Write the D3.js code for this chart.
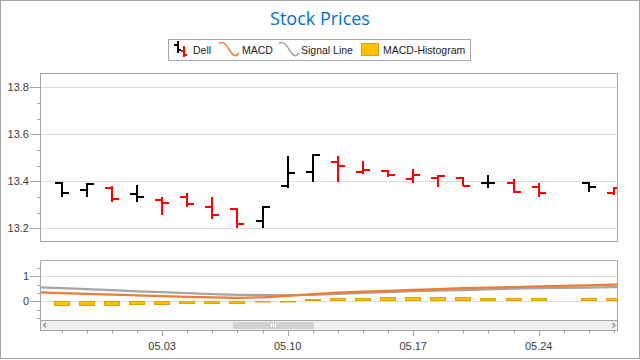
<!DOCTYPE html>
<html><head><meta charset="utf-8">
<script src="https://cdn.jsdelivr.net/npm/d3@7"></script>
<style>
html,body{margin:0;padding:0;background:#fff;}
svg{display:block;font-family:"Liberation Sans",Arial,sans-serif;}
</style></head>
<body>
<svg id="c" width="640" height="360"></svg>
<script>
// ---------- DATA ----------
const dates = ["2013-04-29","2013-04-30","2013-05-01","2013-05-02","2013-05-03",
  "2013-05-06","2013-05-07","2013-05-08","2013-05-09","2013-05-10",
  "2013-05-13","2013-05-14","2013-05-15","2013-05-16","2013-05-17",
  "2013-05-20","2013-05-21","2013-05-22","2013-05-23","2013-05-24",
  "2013-05-28","2013-05-29"];
const openV  = [13.394,13.364,13.373,13.346,13.322,13.333,13.291,13.283,13.231,13.381,13.441,13.483,13.441,13.444,13.411,13.413,13.415,13.394,13.394,13.376,13.394,13.351];
const highV  = [13.398,13.391,13.381,13.384,13.332,13.349,13.332,13.285,13.294,13.508,13.515,13.508,13.486,13.448,13.452,13.427,13.420,13.427,13.409,13.394,13.398,13.377];
const lowV   = [13.334,13.334,13.311,13.311,13.258,13.292,13.238,13.203,13.200,13.370,13.398,13.398,13.430,13.417,13.391,13.377,13.380,13.373,13.351,13.332,13.353,13.342];
const closeV = [13.351,13.389,13.325,13.333,13.309,13.303,13.257,13.220,13.292,13.434,13.513,13.466,13.448,13.427,13.425,13.423,13.380,13.394,13.354,13.349,13.377,13.373];
const histV  = [-0.21,-0.21,-0.21,-0.16,-0.16,-0.12,-0.12,-0.12,-0.05,-0.02,0.08,0.13,0.13,0.17,0.17,0.17,0.17,0.12,0.12,0.12,0.12,0.12];

const lineDates = ["2013-04-26","2013-04-29","2013-04-30","2013-05-01","2013-05-02","2013-05-03",
  "2013-05-06","2013-05-07","2013-05-08","2013-05-09","2013-05-10",
  "2013-05-13","2013-05-14","2013-05-15","2013-05-16","2013-05-17",
  "2013-05-20","2013-05-21","2013-05-22","2013-05-23","2013-05-24",
  "2013-05-28","2013-05-29","2013-05-30"];
const macdV   = [0.36,0.33,0.30,0.27,0.24,0.21,0.18,0.16,0.14,0.16,0.22,0.29,0.35,0.39,0.42,0.46,0.49,0.53,0.55,0.57,0.60,0.64,0.67,0.70];
const signalV = [0.56,0.53,0.49,0.45,0.40,0.37,0.33,0.29,0.26,0.25,0.25,0.26,0.30,0.34,0.37,0.41,0.43,0.45,0.48,0.51,0.53,0.55,0.57,0.59];

const mainTicks = [13.2,13.4,13.6,13.8];
const lowTicks = [0,1];
const titleText = "Stock Prices";
const legendNames = ["Dell","MACD","Signal Line","MACD-Histogram"];

// ---------- HELPERS ----------
const parse = d3.utcParse("%Y-%m-%d");
const base = parse("2013-04-29");
function tradeIndex(dt){
  const d = Math.round((dt - base)/86400000);
  const w = Math.floor(d/7);
  const dow = d - w*7;
  return w*5 + Math.min(dow,5);
}
const fmt = d3.utcFormat("%m.%d");

const svg = d3.select("#c");
const GRID = "#dcdcdc", BORDER = "#a6a6a6", TXT = "#3c3c3c";

// outer border
svg.append("rect").attr("x",0.5).attr("y",0.5).attr("width",639).attr("height",358)
  .attr("fill","#fff").attr("stroke",BORDER);

// title
svg.append("text").attr("x",320).attr("y",25).attr("text-anchor","middle")
  .attr("font-family","'Open Sans',sans-serif").attr("font-size",18).attr("fill","#0072c6").text(titleText);

// scales
const L = 40, R = 618;
const x = d3.scaleLinear().domain([-0.865, 22.16]).range([L, R]);
const yM = d3.scaleLinear().domain([13.142, 13.861]).range([242, 73]);
const yL = d3.scaleLinear().domain([-0.756, 1.644]).range([320.2, 260.2]);

svg.append("defs").append("clipPath").attr("id","cm").append("rect")
  .attr("x",L).attr("y",73).attr("width",R-L).attr("height",169);
svg.select("defs").append("clipPath").attr("id","cl").append("rect")
  .attr("x",L).attr("y",260).attr("width",R-L).attr("height",60.5);

// ----- main pane -----
const gM = svg.append("g");
gM.selectAll("line.g").data(mainTicks).join("line")
  .attr("x1",L).attr("x2",R).attr("y1",d=>Math.round(yM(d))+0.5).attr("y2",d=>Math.round(yM(d))+0.5)
  .attr("stroke",GRID);
// y axis main
const minorM = d3.range(13.2-0.2/3*1, 13.87, 0.2/3).filter(v=>yM(v)>73 && yM(v)<242);
gM.selectAll("line.mt").data(minorM).join("line")
  .attr("x1",L-3).attr("x2",L).attr("y1",d=>Math.round(yM(d))+0.5).attr("y2",d=>Math.round(yM(d))+0.5)
  .attr("stroke",BORDER);
gM.selectAll("line.Mt").data(mainTicks).join("line")
  .attr("x1",L-10).attr("x2",L).attr("y1",d=>Math.round(yM(d))+0.5).attr("y2",d=>Math.round(yM(d))+0.5)
  .attr("stroke",BORDER);
gM.selectAll("text.yl").data(mainTicks).join("text")
  .attr("x",29).attr("y",d=>yM(d)+4).attr("text-anchor","end").attr("font-size",11).attr("fill",TXT)
  .text(d=>d.toFixed(1));

const ohlc = dates.map((d,i)=>({i:tradeIndex(parse(d)),o:openV[i],h:highV[i],l:lowV[i],c:closeV[i],
  col: (i>0 && closeV[i]<closeV[i-1]) ? "#ff0000" : "#000000"}));
const bars = gM.append("g").attr("clip-path","url(#cm)").selectAll("g").data(ohlc).join("g");
bars.append("rect").attr("x",d=>Math.round(x(d.i))-1).attr("width",2)
  .attr("y",d=>Math.round(yM(d.h))).attr("height",d=>Math.max(2,Math.round(yM(d.l))-Math.round(yM(d.h))))
  .attr("fill",d=>d.col);
bars.append("rect").attr("x",d=>Math.round(x(d.i))-7).attr("width",7)
  .attr("y",d=>Math.round(yM(d.o))-1).attr("height",2).attr("fill",d=>d.col);
bars.append("rect").attr("x",d=>Math.round(x(d.i))).attr("width",7)
  .attr("y",d=>Math.round(yM(d.c))-1).attr("height",2).attr("fill",d=>d.col);

svg.append("rect").attr("x",L+0.5).attr("y",73.5).attr("width",R-L-1).attr("height",168)
  .attr("fill","none").attr("stroke",BORDER);

// ----- lower pane -----
const gL = svg.append("g");
gL.selectAll("line.g").data(lowTicks).join("line")
  .attr("x1",L).attr("x2",R).attr("y1",d=>Math.round(yL(d))+0.5).attr("y2",d=>Math.round(yL(d))+0.5)
  .attr("stroke",GRID);
const minorL = d3.range(-2,5).map(k=>k/3).filter(v=>yL(v)>261 && yL(v)<320 && Math.abs(v-Math.round(v))>0.01);
gL.selectAll("line.mt").data(minorL).join("line")
  .attr("x1",L-3).attr("x2",L).attr("y1",d=>Math.round(yL(d))+0.5).attr("y2",d=>Math.round(yL(d))+0.5)
  .attr("stroke",BORDER);
gL.selectAll("line.Mt").data(lowTicks).join("line")
  .attr("x1",L-10).attr("x2",L).attr("y1",d=>Math.round(yL(d))+0.5).attr("y2",d=>Math.round(yL(d))+0.5)
  .attr("stroke",BORDER);
gL.selectAll("text.yl").data(lowTicks).join("text")
  .attr("x",29).attr("y",d=>yL(d)+4).attr("text-anchor","end").attr("font-size",11).attr("fill",TXT)
  .text(d=>d3.format("d")(d));

const gLc = gL.append("g").attr("clip-path","url(#cl)");
// histogram
gLc.selectAll("rect.h").data(dates.map((d,i)=>({i:tradeIndex(parse(d)),v:histV[i]}))).join("rect")
  .attr("x",d=>Math.round(x(d.i))-7.5).attr("width",15)
  .attr("y",d=>Math.round(Math.min(yL(d.v),yL(0)))+0.5)
  .attr("height",d=>Math.max(0.5,Math.round(Math.abs(yL(d.v)-yL(0)))-1))
  .attr("fill","#ffc000").attr("stroke","#dca400");
const lp = lineDates.map((d,i)=>({i:tradeIndex(parse(d)),m:macdV[i],s:signalV[i]}));
gLc.append("path").datum(lp).attr("fill","none").attr("stroke","#a5a5a5").attr("stroke-width",2.2)
  .attr("d",d3.line().x(d=>x(d.i)).y(d=>yL(d.s)));
gLc.append("path").datum(lp).attr("fill","none").attr("stroke","#ed7d31").attr("stroke-width",2.2)
  .attr("d",d3.line().x(d=>x(d.i)).y(d=>yL(d.m)));

// scrollbar
svg.append("rect").attr("x",L).attr("y",320.5).attr("width",R-L).attr("height",9.5).attr("fill","#efefef");
svg.append("rect").attr("x",233).attr("y",322).attr("width",81).attr("height",7).attr("fill","#d2d2d2");
[-2,0,2].forEach(o=>svg.append("line").attr("x1",273.5+o).attr("x2",273.5+o).attr("y1",323.5).attr("y2",327).attr("stroke","#fff"));
svg.append("path").attr("d","M46,323 L43.5,325.3 L46,327.6").attr("fill","none").attr("stroke","#8a8a8a").attr("stroke-width",1.2);
svg.append("path").attr("d","M612.5,323 L615,325.3 L612.5,327.6").attr("fill","none").attr("stroke","#8a8a8a").attr("stroke-width",1.2);
svg.append("line").attr("x1",L).attr("x2",R).attr("y1",320.5).attr("y2",320.5).attr("stroke",BORDER);
// lower pane border
svg.append("path").attr("d",`M${L+0.5},330 V260.5 H${R-0.5} V330`).attr("fill","none").attr("stroke",BORDER);

// x axis
const allDays = d3.utcDay.range(parse("2013-04-22"), parse("2013-06-08")).filter(d=>d.getUTCDay()>0 && d.getUTCDay()<6)
  .filter(d=>x(tradeIndex(d))>=L && x(tradeIndex(d))<=R);
svg.append("line").attr("x1",L).attr("x2",R).attr("y1",330.5).attr("y2",330.5).attr("stroke",BORDER);
svg.selectAll("line.xt").data(allDays).join("line")
  .attr("x1",d=>Math.round(x(tradeIndex(d)))+0.5).attr("x2",d=>Math.round(x(tradeIndex(d)))+0.5)
  .attr("y1",330).attr("y2",d=>d.getUTCDay()===5?336:333.5).attr("stroke",BORDER);
svg.selectAll("text.xl").data(allDays.filter(d=>d.getUTCDay()===5)).join("text")
  .attr("x",d=>x(tradeIndex(d))).attr("y",350).attr("text-anchor","middle").attr("font-size",11).attr("fill",TXT)
  .text(d=>fmt(d));

// ----- legend -----
const lg = svg.append("g");
lg.append("rect").attr("x",168.5).attr("y",39.5).attr("width",302).attr("height",21).attr("fill","#fff").attr("stroke",BORDER);
// Dell icon
lg.append("rect").attr("x",177).attr("y",41).attr("width",2).attr("height",12).attr("fill","#000");
lg.append("rect").attr("x",174).attr("y",44).attr("width",4).attr("height",2).attr("fill","#000");
lg.append("rect").attr("x",178).attr("y",49).attr("width",3).attr("height",2).attr("fill","#000");
lg.append("rect").attr("x",183).attr("y",46).attr("width",2).attr("height",11).attr("fill","#f00");
lg.append("rect").attr("x",181).attr("y",50).attr("width",3).attr("height",2).attr("fill","#f00");
lg.append("rect").attr("x",184).attr("y",54).attr("width",3).attr("height",2).attr("fill","#f00");
const wave = "C224,40.5 227,46 230,51 C233,56 236,57.5 239,53";
lg.append("path").attr("d","M219,43 "+wave).attr("fill","none").attr("stroke","#ed7d31").attr("stroke-width",1.5);
lg.append("path").attr("d","M279,43 "+wave.replace(/(\d+),/g,(m,a)=>(+a+60)+",")).attr("fill","none").attr("stroke","#a5a5a5").attr("stroke-width",1.5);
lg.append("rect").attr("x",361.5).attr("y",43.5).attr("width",17).attr("height",12).attr("fill","#ffc000").attr("stroke","#dca400");
const lx = [193,242,301,383];
lg.selectAll("text").data(legendNames).join("text")
  .attr("x",(d,i)=>lx[i]).attr("y",54).attr("font-size",10.5).attr("fill","#222").text(d=>d);
</script>
</body></html>
